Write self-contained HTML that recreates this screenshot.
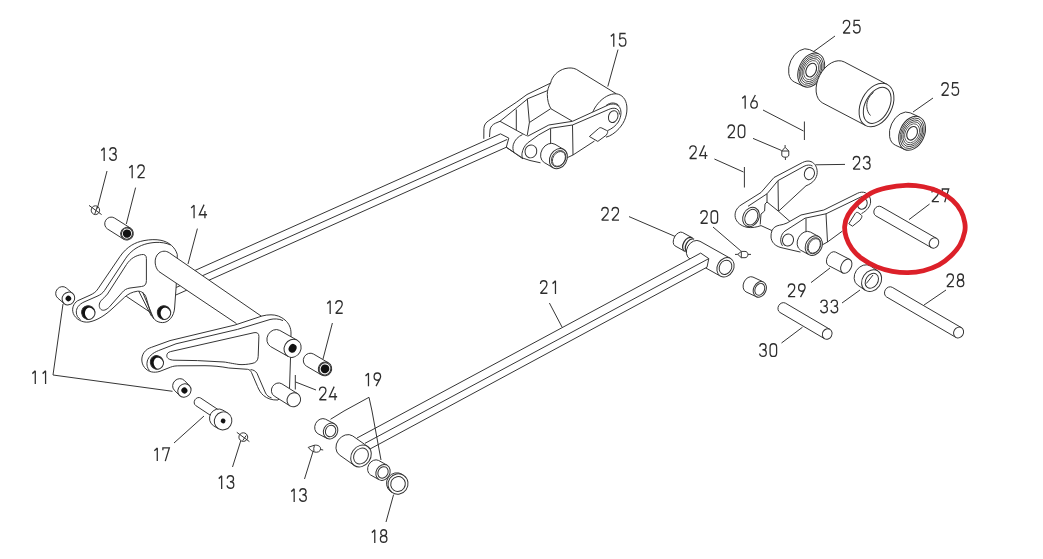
<!DOCTYPE html>
<html><head><meta charset="utf-8"><title>Parts diagram</title>
<style>
html,body{margin:0;padding:0;background:#fff;}
body{width:1043px;height:559px;overflow:hidden;font-family:"Liberation Sans",sans-serif;}
svg{display:block}
</style></head><body>
<svg width="1043" height="559" viewBox="0 0 1043 559" stroke-linecap="butt" stroke-linejoin="round">
<rect width="1043" height="559" fill="#fff"/>
<path d="M176,278.942L430,165.3786" fill="none" stroke="#303030" stroke-width="0.98"/>
<path d="M176,287.54200000000003L430,173.9786" fill="none" stroke="#303030" stroke-width="0.98"/>
<path d="M176,294.942L430,181.3786" fill="none" stroke="#303030" stroke-width="0.98"/>
<path d="M144,240.6 C150,239.4 156,239.3 161,240.3 C169,242 175,247 177.3,254.5 L176.2,286 L174.6,308 C174,316 169,322.6 162.5,322.6 C156,322.6 152,318 150.2,311.5 L146.3,298 C145,293.5 141.5,290.8 137.5,291.2 C132,292 128,294 124.5,297.3 L113,308 C105,315.5 97,320.5 89,322 C82,323 75.5,319 73.3,313.5 C71.5,308.5 73.5,303.5 77.5,300.8 L90,295.2 C94,293.3 96,291.8 98,288.8 L120,256.5 C127,246.5 135,242.3 144,240.6 Z" fill="#fff" stroke="#303030" stroke-width="0.98" />
<path d="M170.5,245 C166,242.8 161,242.2 156,242.4 C148,242.8 140,245 133.5,250 C130,252.8 128,255 125.8,258.2 L104.5,290.5 C102.5,293.3 100.5,294.8 97,296.3 L84,302 C79,304.3 76.3,308 76.3,312 C76.3,315.5 78,318 80.5,319.6" fill="none" stroke="#303030" stroke-width="0.98" />
<path d="M141.5,254.6 C144.5,254 146.4,255.3 146.4,258.5 L146.4,280.5 C146.4,284.3 145,286.1 141.5,286.5 L130,288 C126.5,288.5 124.2,290 122,292.6 L109.5,306.8 C106.5,310 103,311.3 100.8,309.3 C98.6,307.3 98.8,303.3 101,300.8 C103,298.3 105.5,296.8 107.5,294 L126.5,264.5 C130.5,258.5 135.5,255.6 141.5,254.6 Z" fill="none" stroke="#303030" stroke-width="0.98" />
<path d="M126.3,296.3L150.3,312.3" fill="none" stroke="#303030" stroke-width="0.98"/>
<path d="M138.8,291.3L151.5,316.2" fill="none" stroke="#303030" stroke-width="0.98"/>
<path d="M142.6,292.2L153.8,318.8" fill="none" stroke="#303030" stroke-width="0.98"/>
<clipPath id="hc1"><ellipse cx="88.3" cy="312.6" rx="6.7" ry="6.9" transform="rotate(-30 88.3 312.6)"/></clipPath>
<ellipse cx="88.3" cy="312.6" rx="6.7" ry="6.9" transform="rotate(-30.0 88.3 312.6)" fill="#111" stroke="#303030" stroke-width="0"/>
<ellipse cx="90.89999999999999" cy="313.6" rx="5.8" ry="6.4" transform="rotate(-30 90.89999999999999 313.6)" fill="#fff" clip-path="url(#hc1)"/>
<ellipse cx="88.3" cy="312.6" rx="6.7" ry="6.9" transform="rotate(-30.0 88.3 312.6)" fill="none" stroke="#303030" stroke-width="0.98"/>
<clipPath id="hc2"><ellipse cx="164" cy="312.6" rx="6.7" ry="6.9" transform="rotate(-30 164 312.6)"/></clipPath>
<ellipse cx="164" cy="312.6" rx="6.7" ry="6.9" transform="rotate(-30.0 164 312.6)" fill="#111" stroke="#303030" stroke-width="0"/>
<ellipse cx="166.6" cy="313.6" rx="5.8" ry="6.4" transform="rotate(-30 166.6 313.6)" fill="#fff" clip-path="url(#hc2)"/>
<ellipse cx="164" cy="312.6" rx="6.7" ry="6.9" transform="rotate(-30.0 164 312.6)" fill="none" stroke="#303030" stroke-width="0.98"/>
<path d="M72.70,293.49 L66.30,287.99 A6.1,6.6 40.7 0 0 57.70,298.01 L64.10,303.51" fill="#fff" stroke="#303030" stroke-width="0.98" />
<ellipse cx="68.4" cy="298.5" rx="6.1" ry="6.6" transform="rotate(40.7 68.4 298.5)" fill="#fff" stroke="#303030" stroke-width="0.98"/>
<ellipse cx="68.4" cy="298.5" rx="2.8" ry="2.8" transform="rotate(40.7 68.4 298.5)" fill="#111" stroke="#303030" stroke-width="0"/>
<path d="M130.47,228.10 L114.47,218.00 A6.2,6.5 32.3 0 0 107.53,229.00 L123.53,239.10" fill="#fff" stroke="#303030" stroke-width="0.98" />
<ellipse cx="127" cy="233.6" rx="6.2" ry="6.5" transform="rotate(32.3 127 233.6)" fill="#fff" stroke="#303030" stroke-width="0.98"/>
<ellipse cx="127" cy="233.6" rx="5.456" ry="5.72" transform="rotate(32.3 127 233.6)" fill="none" stroke="#303030" stroke-width="0.98"/>
<ellipse cx="127" cy="233.6" rx="4.2" ry="4.2" transform="rotate(32.3 127 233.6)" fill="#111" stroke="#303030" stroke-width="0"/>
<path d="M261.5,316.3 L169.3,252.8 C166,250.6 162,250.7 159,253 C156,255.4 154.9,259 155.2,263 C155.5,266.5 156.8,269.5 159,271.6 L236.5,323.6" fill="#fff" stroke="#303030" stroke-width="0.98" />
<path d="M271,314.8 C276,314.8 281,316.5 285,320 C289,323.5 291,328 291,333 L290.5,358 L289.5,388 L278,400 C272,400.3 267,398.5 263.5,395.5 C260.5,392.8 259,390 257.5,386.5 L251.5,372.5 C250.5,370.5 249.5,369.6 247.5,369.3 L228.8,368 C221,366.5 213,365.8 205,365.7 L180,365.8 C176,365.8 173.5,366 170.5,367.2 L160,371.3 C154,373.3 148,372 144.5,367.5 C141,363 141,357 144,352.5 C146,349.7 148.5,348.3 151.5,347.3 L170,340.6 L235,325 L262,316 C265,315.2 268,314.8 271,314.8 Z" fill="#fff" stroke="#303030" stroke-width="0.98" />
<path d="M283,320.6 C279,318.6 274,318.6 270,319.5 L237.5,329.4 L176,343.8 L158.5,350.6 C152.5,353 148.6,356.5 147.3,361 C146.3,364.8 147.3,368 149.5,370.6" fill="none" stroke="#303030" stroke-width="0.98" />
<path d="M250.5,369.6 C253.5,369.8 255.5,371 257,373.3 L265.5,393 C266.8,395.6 268.8,397 271.5,397.8" fill="none" stroke="#303030" stroke-width="0.98" />
<path d="M170.5,351.6 L254,332.7 C257,332.1 258.9,333.3 258.9,336.3 L258.2,356.5 C258,360.5 256,362.8 252,363.5 C247,364.5 243,364.8 239,364.5 C232,363.5 228,362.5 224,362 L197.5,360.6 L174,360.2 C169.5,360 166.8,358.3 166.8,355.8 C166.8,353.6 168,352.3 170.5,351.6 Z" fill="none" stroke="#303030" stroke-width="0.98" />
<clipPath id="hc3"><ellipse cx="156.9" cy="362.4" rx="6.5" ry="6.9" transform="rotate(-30 156.9 362.4)"/></clipPath>
<ellipse cx="156.9" cy="362.4" rx="6.5" ry="6.9" transform="rotate(-30.0 156.9 362.4)" fill="#111" stroke="#303030" stroke-width="0"/>
<ellipse cx="159.5" cy="363.4" rx="5.6" ry="6.4" transform="rotate(-30 159.5 363.4)" fill="#fff" clip-path="url(#hc3)"/>
<ellipse cx="156.9" cy="362.4" rx="6.5" ry="6.9" transform="rotate(-30.0 156.9 362.4)" fill="none" stroke="#303030" stroke-width="0.98"/>
<path d="M297.16,340.20 L279.76,330.40 A8.3,9.3 29.4 0 0 270.64,346.60 L288.04,356.40" fill="#fff" stroke="#303030" stroke-width="0.98" />
<ellipse cx="292.6" cy="348.3" rx="8.3" ry="9.3" transform="rotate(29.4 292.6 348.3)" fill="#fff" stroke="#303030" stroke-width="0.98"/>
<ellipse cx="292.6" cy="348.3" rx="3.8" ry="4.4" transform="rotate(29.4 292.6 348.3)" fill="#111" stroke="#303030" stroke-width="0"/>
<path d="M297.62,393.70 L281.82,383.80 A6.6,7.2 32.1 0 0 274.18,396.00 L289.98,405.90" fill="#fff" stroke="#303030" stroke-width="0.98" />
<ellipse cx="293.8" cy="399.8" rx="6.6" ry="7.2" transform="rotate(32.1 293.8 399.8)" fill="#fff" stroke="#303030" stroke-width="0.98"/>
<path d="M295.3,375L295.3,389.5" fill="none" stroke="#303030" stroke-width="0.98"/>
<path d="M295.6,382L316,390" fill="none" stroke="#303030" stroke-width="0.98"/>
<path d="M328.54,362.86 L313.54,354.06 A6.6,7.0 30.4 0 0 306.46,366.14 L321.46,374.94" fill="#fff" stroke="#303030" stroke-width="0.98" />
<ellipse cx="325" cy="368.9" rx="6.6" ry="7.0" transform="rotate(30.4 325 368.9)" fill="#fff" stroke="#303030" stroke-width="0.98"/>
<ellipse cx="325" cy="368.9" rx="5.808" ry="6.16" transform="rotate(30.4 325 368.9)" fill="none" stroke="#303030" stroke-width="0.98"/>
<ellipse cx="325" cy="368.9" rx="4.3" ry="4.5" transform="rotate(30.4 325 368.9)" fill="#111" stroke="#303030" stroke-width="0"/>
<path d="M189.40,385.60 L184.30,380.40 A6.3,7 45.6 0 0 174.30,390.20 L179.40,395.40" fill="#fff" stroke="#303030" stroke-width="0.98" />
<ellipse cx="184.4" cy="390.5" rx="6.3" ry="7" transform="rotate(45.6 184.4 390.5)" fill="#fff" stroke="#303030" stroke-width="0.98"/>
<ellipse cx="184.4" cy="390.5" rx="3" ry="3" transform="rotate(45.6 184.4 390.5)" fill="#111" stroke="#303030" stroke-width="0"/>
<path d="M219.49,410.55 L200.69,398.05 A3.8,4.5 33.6 0 0 195.71,405.55 L214.51,418.05" fill="#fff" stroke="#303030" stroke-width="0.98" />
<path d="M227.81,413.11 L223.01,410.21 A8.7,9.1 31.1 0 0 213.59,425.79 L218.39,428.69" fill="#fff" stroke="#303030" stroke-width="0.98" />
<ellipse cx="223.1" cy="420.9" rx="8.7" ry="9.1" transform="rotate(31.1 223.1 420.9)" fill="#fff" stroke="#303030" stroke-width="0.98"/>
<ellipse cx="223.1" cy="420.9" rx="2.4" ry="2.4" transform="rotate(31.1 223.1 420.9)" fill="#111" stroke="#303030" stroke-width="0"/>
<path d="M107,171L97.3,208.5" fill="none" stroke="#303030" stroke-width="0.98"/>
<ellipse cx="95.4" cy="210.2" rx="4.2" ry="4.4" transform="rotate(0.0 95.4 210.2)" fill="none" stroke="#303030" stroke-width="0.98"/>
<path d="M89,205.4L101.6,214.6" fill="none" stroke="#303030" stroke-width="0.98"/>
<path d="M97.3,206.5L94.8,214" fill="none" stroke="#303030" stroke-width="0.98"/>
<path d="M135.6,187.6L126.3,224" fill="none" stroke="#303030" stroke-width="0.98"/>
<path d="M197.4,228.6L188,264" fill="none" stroke="#303030" stroke-width="0.98"/>
<path d="M63,304 L53,375 L172.5,391.3" fill="none" stroke="#303030" stroke-width="0.98" />
<path d="M204,416L174,443" fill="none" stroke="#303030" stroke-width="0.98"/>
<path d="M332.4,323L323,359" fill="none" stroke="#303030" stroke-width="0.98"/>
<ellipse cx="243.3" cy="437.1" rx="4.4" ry="4.3" transform="rotate(0.0 243.3 437.1)" fill="none" stroke="#303030" stroke-width="0.98"/>
<path d="M236.8,432.3L249.4,441.6" fill="none" stroke="#303030" stroke-width="0.98"/>
<path d="M246.3,435.4L242.7,440.6" fill="none" stroke="#303030" stroke-width="0.98"/>
<path d="M240.8,440.7L232.5,467" fill="none" stroke="#303030" stroke-width="0.98"/>
<path d="M308.2,447.4 L314,445.3 C318,444.6 320.8,446.5 320.6,449 C320.4,451.8 317,452.8 314.5,452 L311.3,450.6 Z" fill="none" stroke="#303030" stroke-width="0.98" />
<path d="M314.4,445.4 Q313.3,448.5 314,451.6" fill="none" stroke="#303030" stroke-width="0.98" />
<path d="M320.6,449.5L323.2,450" fill="none" stroke="#303030" stroke-width="0.98"/>
<path d="M313.1,451.3L304.5,479" fill="none" stroke="#303030" stroke-width="0.98"/>
<path d="M3.5,3.6 L6.7,0.9 V13.9" transform="translate(98.01 147.00) scale(0.92 1)" fill="none" stroke="#2e2e2e" stroke-width="1.38" stroke-linejoin="miter" stroke-miterlimit="2.2"/>
<path d="M1.5,3.6 C1.8,1.8 3.1,0.7 5,0.7 C7.1,0.7 8.4,1.9 8.4,3.8 C8.4,5.6 7.2,6.7 5.3,6.7 H4.5 M5.3,6.7 C7.4,6.7 8.7,7.9 8.7,9.9 C8.7,12 7.3,13.3 5.1,13.3 C3,13.3 1.6,12.3 1.3,10.4" transform="translate(108.31 147.00) scale(0.92 1)" fill="none" stroke="#2e2e2e" stroke-width="1.38" stroke-linejoin="miter" stroke-miterlimit="2.2"/>
<path d="M3.5,3.6 L6.7,0.9 V13.9" transform="translate(126.01 164.30) scale(0.92 1)" fill="none" stroke="#2e2e2e" stroke-width="1.38" stroke-linejoin="miter" stroke-miterlimit="2.2"/>
<path d="M1.6,4.1 C1.6,2 3,0.7 5.1,0.7 C7.2,0.7 8.6,2 8.6,4.1 C8.6,5.5 8.1,6.3 7.2,7.4 L1.6,13.3 H9.1" transform="translate(136.31 164.30) scale(0.92 1)" fill="none" stroke="#2e2e2e" stroke-width="1.38" stroke-linejoin="miter" stroke-miterlimit="2.2"/>
<path d="M3.5,3.6 L6.7,0.9 V13.9" transform="translate(187.91 204.40) scale(0.92 1)" fill="none" stroke="#2e2e2e" stroke-width="1.38" stroke-linejoin="miter" stroke-miterlimit="2.2"/>
<path d="M6.4,0.2 L1.2,10.4 H9.6 M7.3,6.5 V13.9" transform="translate(198.21 204.40) scale(0.92 1)" fill="none" stroke="#2e2e2e" stroke-width="1.38" stroke-linejoin="miter" stroke-miterlimit="2.2"/>
<path d="M3.5,3.6 L6.7,0.9 V13.9" transform="translate(29.11 370.00) scale(0.92 1)" fill="none" stroke="#2e2e2e" stroke-width="1.38" stroke-linejoin="miter" stroke-miterlimit="2.2"/>
<path d="M3.5,3.6 L6.7,0.9 V13.9" transform="translate(39.41 370.00) scale(0.92 1)" fill="none" stroke="#2e2e2e" stroke-width="1.38" stroke-linejoin="miter" stroke-miterlimit="2.2"/>
<path d="M3.5,3.6 L6.7,0.9 V13.9" transform="translate(151.11 447.20) scale(0.92 1)" fill="none" stroke="#2e2e2e" stroke-width="1.38" stroke-linejoin="miter" stroke-miterlimit="2.2"/>
<path d="M1.6,3.1 V0.7 H8.6 L4.2,13.9" transform="translate(161.41 447.20) scale(0.92 1)" fill="none" stroke="#2e2e2e" stroke-width="1.38" stroke-linejoin="miter" stroke-miterlimit="2.2"/>
<path d="M3.5,3.6 L6.7,0.9 V13.9" transform="translate(215.51 475.00) scale(0.92 1)" fill="none" stroke="#2e2e2e" stroke-width="1.38" stroke-linejoin="miter" stroke-miterlimit="2.2"/>
<path d="M1.5,3.6 C1.8,1.8 3.1,0.7 5,0.7 C7.1,0.7 8.4,1.9 8.4,3.8 C8.4,5.6 7.2,6.7 5.3,6.7 H4.5 M5.3,6.7 C7.4,6.7 8.7,7.9 8.7,9.9 C8.7,12 7.3,13.3 5.1,13.3 C3,13.3 1.6,12.3 1.3,10.4" transform="translate(225.81 475.00) scale(0.92 1)" fill="none" stroke="#2e2e2e" stroke-width="1.38" stroke-linejoin="miter" stroke-miterlimit="2.2"/>
<path d="M3.5,3.6 L6.7,0.9 V13.9" transform="translate(288.01 488.00) scale(0.92 1)" fill="none" stroke="#2e2e2e" stroke-width="1.38" stroke-linejoin="miter" stroke-miterlimit="2.2"/>
<path d="M1.5,3.6 C1.8,1.8 3.1,0.7 5,0.7 C7.1,0.7 8.4,1.9 8.4,3.8 C8.4,5.6 7.2,6.7 5.3,6.7 H4.5 M5.3,6.7 C7.4,6.7 8.7,7.9 8.7,9.9 C8.7,12 7.3,13.3 5.1,13.3 C3,13.3 1.6,12.3 1.3,10.4" transform="translate(298.31 488.00) scale(0.92 1)" fill="none" stroke="#2e2e2e" stroke-width="1.38" stroke-linejoin="miter" stroke-miterlimit="2.2"/>
<path d="M3.5,3.6 L6.7,0.9 V13.9" transform="translate(324.01 300.00) scale(0.92 1)" fill="none" stroke="#2e2e2e" stroke-width="1.38" stroke-linejoin="miter" stroke-miterlimit="2.2"/>
<path d="M1.6,4.1 C1.6,2 3,0.7 5.1,0.7 C7.2,0.7 8.6,2 8.6,4.1 C8.6,5.5 8.1,6.3 7.2,7.4 L1.6,13.3 H9.1" transform="translate(334.31 300.00) scale(0.92 1)" fill="none" stroke="#2e2e2e" stroke-width="1.38" stroke-linejoin="miter" stroke-miterlimit="2.2"/>
<path d="M1.6,4.1 C1.6,2 3,0.7 5.1,0.7 C7.2,0.7 8.6,2 8.6,4.1 C8.6,5.5 8.1,6.3 7.2,7.4 L1.6,13.3 H9.1" transform="translate(318.01 386.40) scale(0.92 1)" fill="none" stroke="#2e2e2e" stroke-width="1.38" stroke-linejoin="miter" stroke-miterlimit="2.2"/>
<path d="M6.4,0.2 L1.2,10.4 H9.6 M7.3,6.5 V13.9" transform="translate(328.31 386.40) scale(0.92 1)" fill="none" stroke="#2e2e2e" stroke-width="1.38" stroke-linejoin="miter" stroke-miterlimit="2.2"/>
<path d="M483.8,138.5 L483.9,128.5 C484,125 486,122.3 488.8,120.6 L516.3,102.3 L525.5,95.5 L550.6,83.1 L556,112 L529.4,123 L527.4,136 L508,140 Z" fill="#fff" stroke="#303030" stroke-width="0" />
<path d="M483.8,138.8 L483.9,128.5 C484,125 486,122.3 488.8,120.6 L516.3,102.3 L527,94.5 L550.6,83.1" fill="none" stroke="#303030" stroke-width="0.98" />
<path d="M489.5,137 L490,130 C490.3,127 492.5,124.5 495.5,123.2 L500,121.3 L528,98.6 L547.5,90.6" fill="none" stroke="#303030" stroke-width="0.98" />
<path d="M500,121.3L527.5,136.4" fill="none" stroke="#303030" stroke-width="0.98"/>
<path d="M516.3,109.5L516.3,130.2" fill="none" stroke="#303030" stroke-width="0.98"/>
<path d="M527.3,98.8 L529.4,122.5 L527.2,135.6" fill="none" stroke="#303030" stroke-width="0.98" />
<path d="M529.4,122.5L550.5,108.8" fill="none" stroke="#303030" stroke-width="0.98"/>
<path d="M429,165.82569999999998 L500.6,133.81333999999998 L508.8,138.1 L506.3,147.2 L429,181.82569999999998 Z" fill="#fff" stroke="none"/>
<path d="M429,165.82569999999998L500.6,133.81333999999998" fill="none" stroke="#303030" stroke-width="0.98"/>
<path d="M429,174.42569999999998L507.2,139.46248" fill="none" stroke="#303030" stroke-width="0.98"/>
<path d="M429,181.82569999999998L506.3,147.26487" fill="none" stroke="#303030" stroke-width="0.98"/>
<path d="M500.6,133.9 L508.8,138.1 L506.3,147.2" fill="none" stroke="#303030" stroke-width="0.98" />
<path d="M506.3,147.2L523,158.9" fill="none" stroke="#303030" stroke-width="0.98"/>
<path d="M550.6,83.1 C552,76 558,70.5 565,68.6 C569.5,67.5 573,67.8 576.3,69.3 L616.3,93.8 C622,94.5 626,99 626.8,106 C627.6,114 625,122 619,128.6 C615,133 610.5,136 606,137.2 L597.5,141.5 L573,155 L572.5,121.3 L556,112.5 C552,110 549.5,106.5 548,102.5 C547,99 547,95 547.6,91.5 Z" fill="#fff" stroke="#303030" stroke-width="0" />
<path d="M550.6,83.1 C552,76 558,70.5 565,68.6 C569.5,67.5 573,67.8 576.3,69.3 L616.3,93.8 C622,94.5 626,99 626.8,106 C627.6,114 625,122 619,128.6 C615,133 610.5,136 606,137.2 " fill="none" stroke="#303030" stroke-width="0.98" />
<path d="M550.6,83.1 C548.5,86.5 547.3,90 547.3,94.5 C547.3,100 548.8,105.5 551,108.8 L572.5,121.3" fill="none" stroke="#303030" stroke-width="0.98" />
<path d="M616.3,93.8 C610,93.5 603,97.5 598,103.5 C595.5,106.5 593.8,109.5 592.6,112.5" fill="none" stroke="#303030" stroke-width="0.98" />
<path d="M527.5,136.3 L548.8,125 L572.5,121.3 L606,106 C609,104.3 612.5,103.5 615.5,104.3 C619,105.3 621,108.5 621,112.5 C621,116 620,119 618.3,122 C616,125.5 612.5,128.5 607.3,130.8 L606.3,135.2 L597.8,141.4 L594,141.3 L573,155 L566,157.8 L552.5,168 L540,162.5 L525,158 C523,155.5 522.3,152 522.5,148.5 C522.7,143.5 524.5,139.5 527.5,136.3 Z" fill="#fff" stroke="#303030" stroke-width="0" />
<path d="M527.5,136.3 L548.8,125 L572.5,121.3 L606,106 C609,104.3 612.5,103.5 615.5,104.3 C619,105.3 621,108.5 621,112.5 C621,116 620,119 618.3,122 C616,125.5 612.5,128.5 607.3,130.8 " fill="none" stroke="#303030" stroke-width="0.98" />
<path d="M550.3,128.3 L572.5,125 L608.8,109.4 C611.5,108.2 614.5,107.8 616.5,108.8 C618.6,109.8 619.6,112 619.4,114.5" fill="none" stroke="#303030" stroke-width="0.98" />
<path d="M606,105.6 C608,103.8 611,102.8 613.5,103 C616,103.3 618,104.3 619,105.8" fill="none" stroke="#303030" stroke-width="0.98" />
<ellipse cx="613.2" cy="116.6" rx="4.6" ry="6.1" transform="rotate(20.0 613.2 116.6)" fill="none" stroke="#303030" stroke-width="0.98"/>
<path d="M589.4,136.5 L598.5,128.6 C599.5,127.6 600.5,127.4 601.8,128 L606.5,130.4 C607.8,131.1 608,132 607.3,133.3 L606.3,135.2 L597.8,141.4 Z" fill="#fff" stroke="#303030" stroke-width="0.98" />
<path d="M550.6,128.5L550.6,143.5" fill="none" stroke="#303030" stroke-width="0.98"/>
<path d="M572.5,125L573,155" fill="none" stroke="#303030" stroke-width="0.98"/>
<path d="M566.5,158 L573,155 L594.5,141" fill="none" stroke="#303030" stroke-width="0.98" />
<path d="M522.5,134.6 C518,136.5 514.8,140 513.4,144.3 C512.6,147 512.8,150 513.9,152.3 L522.5,158 L527.5,143 L527.5,136.4 Z" fill="#fff" stroke="#303030" stroke-width="0" />
<path d="M522.5,134.6 C518,136.5 514.8,140 513.4,144.3 C512.6,147 512.8,150 513.9,152.3" fill="none" stroke="#303030" stroke-width="0.98" />
<path d="M550.3,128.4 L538.7,134.9 L527.5,143 C524.5,145.8 522.6,149.5 522,153.5 C521.8,155.5 522,157 522.5,158 L530,160.5 L540.5,162.8" fill="none" stroke="#303030" stroke-width="0.98" />
<path d="M506.3,147.3L522.5,158" fill="none" stroke="#303030" stroke-width="0.98"/>
<ellipse cx="530.9" cy="151.4" rx="5.9" ry="6.5" transform="rotate(15.0 530.9 151.4)" fill="none" stroke="#303030" stroke-width="0.98"/>
<path d="M563.79,149.47 L554.99,144.27 A8.4,10.6 30.6 0 0 544.21,162.53 L553.01,167.73" fill="#fff" stroke="#303030" stroke-width="0.98" />
<ellipse cx="558.4" cy="158.6" rx="8.4" ry="10.6" transform="rotate(30.6 558.4 158.6)" fill="#fff" stroke="#303030" stroke-width="0.98"/>
<ellipse cx="558.6" cy="158.7" rx="6.7" ry="8.7" transform="rotate(31.6 558.6 158.7)" fill="none" stroke="#303030" stroke-width="0.8"/>
<ellipse cx="558.9" cy="158.9" rx="5.9" ry="7.9" transform="rotate(31.6 558.9 158.9)" fill="none" stroke="#303030" stroke-width="0.8"/>
<path d="M618,49.6L607.8,86.5" fill="none" stroke="#303030" stroke-width="0.98"/>
<path d="M3.5,3.6 L6.7,0.9 V13.9" transform="translate(607.61 32.80) scale(0.92 1)" fill="none" stroke="#2e2e2e" stroke-width="1.38" stroke-linejoin="miter" stroke-miterlimit="2.2"/>
<path d="M8.4,0.7 H2.3 L1.9,6.4 C2.6,5.6 3.7,5.1 5.1,5.1 C7.4,5.1 8.7,6.6 8.7,9.1 C8.7,11.8 7.3,13.3 5.1,13.3 C3.1,13.3 1.7,12.3 1.4,10.5" transform="translate(617.91 32.80) scale(0.92 1)" fill="none" stroke="#2e2e2e" stroke-width="1.38" stroke-linejoin="miter" stroke-miterlimit="2.2"/>
<path d="M818.78,53.88 L809.58,49.58 A12.3,17.9 25.1 0 0 794.42,82.02 L803.62,86.32" fill="#fff" stroke="#303030" stroke-width="0.98" />
<ellipse cx="811.2" cy="70.1" rx="12.3" ry="17.9" transform="rotate(25.1 811.2 70.1)" fill="#fff" stroke="#303030" stroke-width="0.98"/>
<ellipse cx="811.2" cy="70.1" rx="11.07" ry="16.11" transform="rotate(25.1 811.2 70.1)" fill="none" stroke="#303030" stroke-width="0.8"/>
<ellipse cx="811.2" cy="70.1" rx="9.717" ry="14.141" transform="rotate(25.1 811.2 70.1)" fill="none" stroke="#303030" stroke-width="0.8"/>
<ellipse cx="811.2" cy="70.1" rx="8.364" ry="12.172" transform="rotate(25.1 811.2 70.1)" fill="none" stroke="#303030" stroke-width="0.8"/>
<ellipse cx="811.2" cy="70.1" rx="6.888000000000001" ry="10.024000000000001" transform="rotate(25.1 811.2 70.1)" fill="none" stroke="#303030" stroke-width="0.7"/>
<ellipse cx="811.2" cy="70.1" rx="4.920000000000001" ry="7.16" transform="rotate(25.1 811.2 70.1)" fill="none" stroke="#303030" stroke-width="1.1"/>
<path d="M887.26,84.44 L844.26,61.94 A15.5,23.2 27.6 0 0 822.74,103.06 L865.74,125.56" fill="#fff" stroke="#303030" stroke-width="0.98" />
<ellipse cx="876.5" cy="105" rx="15.5" ry="23.2" transform="rotate(27.6 876.5 105)" fill="#fff" stroke="#303030" stroke-width="0.98"/>
<ellipse cx="877.2" cy="105.4" rx="12" ry="19.3" transform="rotate(27.6 877.2 105.4)" fill="none" stroke="#303030" stroke-width="0.98"/>
<path d="M873.5,92.5 C869,96 866.5,101 866.8,106.5 C867,110.5 868.5,113.5 870.5,115.5" fill="none" stroke="#303030" stroke-width="0.98" />
<path d="M919.57,117.14 L910.27,112.84 A12.3,17.8 24.8 0 0 895.33,145.16 L904.63,149.46" fill="#fff" stroke="#303030" stroke-width="0.98" />
<ellipse cx="912.1" cy="133.3" rx="12.3" ry="17.8" transform="rotate(24.8 912.1 133.3)" fill="#fff" stroke="#303030" stroke-width="0.98"/>
<ellipse cx="912.1" cy="133.3" rx="11.07" ry="16.02" transform="rotate(24.8 912.1 133.3)" fill="none" stroke="#303030" stroke-width="0.8"/>
<ellipse cx="912.1" cy="133.3" rx="9.717" ry="14.062000000000001" transform="rotate(24.8 912.1 133.3)" fill="none" stroke="#303030" stroke-width="0.8"/>
<ellipse cx="912.1" cy="133.3" rx="8.364" ry="12.104000000000001" transform="rotate(24.8 912.1 133.3)" fill="none" stroke="#303030" stroke-width="0.8"/>
<ellipse cx="912.1" cy="133.3" rx="6.888000000000001" ry="9.968000000000002" transform="rotate(24.8 912.1 133.3)" fill="none" stroke="#303030" stroke-width="0.7"/>
<ellipse cx="912.1" cy="133.3" rx="4.920000000000001" ry="7.120000000000001" transform="rotate(24.8 912.1 133.3)" fill="none" stroke="#303030" stroke-width="1.1"/>
<path d="M835,36L813.3,51.8" fill="none" stroke="#303030" stroke-width="0.98"/>
<path d="M933,98L913,112" fill="none" stroke="#303030" stroke-width="0.98"/>
<path d="M1.6,4.1 C1.6,2 3,0.7 5.1,0.7 C7.2,0.7 8.6,2 8.6,4.1 C8.6,5.5 8.1,6.3 7.2,7.4 L1.6,13.3 H9.1" transform="translate(841.81 19.70) scale(0.92 1)" fill="none" stroke="#2e2e2e" stroke-width="1.38" stroke-linejoin="miter" stroke-miterlimit="2.2"/>
<path d="M8.4,0.7 H2.3 L1.9,6.4 C2.6,5.6 3.7,5.1 5.1,5.1 C7.4,5.1 8.7,6.6 8.7,9.1 C8.7,11.8 7.3,13.3 5.1,13.3 C3.1,13.3 1.7,12.3 1.4,10.5" transform="translate(852.11 19.70) scale(0.92 1)" fill="none" stroke="#2e2e2e" stroke-width="1.38" stroke-linejoin="miter" stroke-miterlimit="2.2"/>
<path d="M1.6,4.1 C1.6,2 3,0.7 5.1,0.7 C7.2,0.7 8.6,2 8.6,4.1 C8.6,5.5 8.1,6.3 7.2,7.4 L1.6,13.3 H9.1" transform="translate(940.31 82.00) scale(0.92 1)" fill="none" stroke="#2e2e2e" stroke-width="1.38" stroke-linejoin="miter" stroke-miterlimit="2.2"/>
<path d="M8.4,0.7 H2.3 L1.9,6.4 C2.6,5.6 3.7,5.1 5.1,5.1 C7.4,5.1 8.7,6.6 8.7,9.1 C8.7,11.8 7.3,13.3 5.1,13.3 C3.1,13.3 1.7,12.3 1.4,10.5" transform="translate(950.61 82.00) scale(0.92 1)" fill="none" stroke="#2e2e2e" stroke-width="1.38" stroke-linejoin="miter" stroke-miterlimit="2.2"/>
<path d="M763,110L803.5,131" fill="none" stroke="#303030" stroke-width="0.98"/>
<path d="M804.4,121.5L804.4,140" fill="none" stroke="#303030" stroke-width="0.98"/>
<path d="M753,138.4L781.6,150.5" fill="none" stroke="#303030" stroke-width="0.98"/>
<path d="M785.1,147.3 L781.8,151 V155 C781.8,156.8 783.5,157.2 785.4,157.2 C787.3,157.2 788.8,156.5 788.8,155 V151 Z M781.8,151 H788.8 M785.1,145 V147.3 M785.4,157.2 V160" fill="none" stroke="#303030" stroke-width="0.98" />
<path d="M714.4,159L743.5,172" fill="none" stroke="#303030" stroke-width="0.98"/>
<path d="M744.4,167L744.4,187.5" fill="none" stroke="#303030" stroke-width="0.98"/>
<path d="M845,164.4L815.5,164.8" fill="none" stroke="#303030" stroke-width="0.98"/>
<path d="M3.5,3.6 L6.7,0.9 V13.9" transform="translate(739.01 94.80) scale(0.92 1)" fill="none" stroke="#2e2e2e" stroke-width="1.38" stroke-linejoin="miter" stroke-miterlimit="2.2"/>
<path d="M6.6,0.2 L2.5,7.2 C1.9,8.2 1.6,8.9 1.6,9.7 C1.6,11.8 3,13.3 5.15,13.3 C7.3,13.3 8.7,11.8 8.7,9.7 C8.7,7.6 7.3,6.1 5.3,6.1 C4.1,6.1 3.1,6.5 2.5,7.3" transform="translate(749.31 94.80) scale(0.92 1)" fill="none" stroke="#2e2e2e" stroke-width="1.38" stroke-linejoin="miter" stroke-miterlimit="2.2"/>
<path d="M1.6,4.1 C1.6,2 3,0.7 5.1,0.7 C7.2,0.7 8.6,2 8.6,4.1 C8.6,5.5 8.1,6.3 7.2,7.4 L1.6,13.3 H9.1" transform="translate(726.51 124.30) scale(0.92 1)" fill="none" stroke="#2e2e2e" stroke-width="1.38" stroke-linejoin="miter" stroke-miterlimit="2.2"/>
<path d="M1.6,4.2 C1.6,1.9 3,0.7 5.15,0.7 C7.3,0.7 8.7,1.9 8.7,4.2 V9.8 C8.7,12.1 7.3,13.3 5.15,13.3 C3,13.3 1.6,12.1 1.6,9.8 Z" transform="translate(736.81 124.30) scale(0.92 1)" fill="none" stroke="#2e2e2e" stroke-width="1.38" stroke-linejoin="miter" stroke-miterlimit="2.2"/>
<path d="M1.6,4.1 C1.6,2 3,0.7 5.1,0.7 C7.2,0.7 8.6,2 8.6,4.1 C8.6,5.5 8.1,6.3 7.2,7.4 L1.6,13.3 H9.1" transform="translate(688.31 145.20) scale(0.92 1)" fill="none" stroke="#2e2e2e" stroke-width="1.38" stroke-linejoin="miter" stroke-miterlimit="2.2"/>
<path d="M6.4,0.2 L1.2,10.4 H9.6 M7.3,6.5 V13.9" transform="translate(698.61 145.20) scale(0.92 1)" fill="none" stroke="#2e2e2e" stroke-width="1.38" stroke-linejoin="miter" stroke-miterlimit="2.2"/>
<path d="M1.6,4.1 C1.6,2 3,0.7 5.1,0.7 C7.2,0.7 8.6,2 8.6,4.1 C8.6,5.5 8.1,6.3 7.2,7.4 L1.6,13.3 H9.1" transform="translate(851.81 155.80) scale(0.92 1)" fill="none" stroke="#2e2e2e" stroke-width="1.38" stroke-linejoin="miter" stroke-miterlimit="2.2"/>
<path d="M1.5,3.6 C1.8,1.8 3.1,0.7 5,0.7 C7.1,0.7 8.4,1.9 8.4,3.8 C8.4,5.6 7.2,6.7 5.3,6.7 H4.5 M5.3,6.7 C7.4,6.7 8.7,7.9 8.7,9.9 C8.7,12 7.3,13.3 5.1,13.3 C3,13.3 1.6,12.3 1.3,10.4" transform="translate(862.11 155.80) scale(0.92 1)" fill="none" stroke="#2e2e2e" stroke-width="1.38" stroke-linejoin="miter" stroke-miterlimit="2.2"/>
<path d="M741,205 L761,192.5 L774,177.5 L802.5,162.5 C805.5,161 808.5,160.6 811,161.6 C815,163.2 817.3,167.5 817.2,172.5 C817,178 813.5,183 806,185.8 L778.8,211 L790,221.5 L772,230.6 L761,225.6 L747,227.3 C741,226 736.5,222.5 735.3,217.5 C734.3,212.5 736.5,208 741,205 Z" fill="#fff" stroke="#303030" stroke-width="0" />
<path d="M741,205 L761,192.5 L774,177.5 L802.5,162.5 C805.5,161 808.5,160.6 811,161.6 C815,163.2 817.3,167.5 817.2,172.5 C817,178 813.5,183 806,185.8 L778.8,211 " fill="none" stroke="#303030" stroke-width="0.98" />
<path d="M741,205 C736.5,208 734.3,212.5 735.3,217.5 C736.5,222.5 741,226 747,227.3 C752,228.2 757,227 761,225.6 L772,230.6" fill="none" stroke="#303030" stroke-width="0.98" />
<path d="M748,206.3 L767,193.8 L778,180.6 L804,166.3 C807,164.8 810,164.6 812.5,166" fill="none" stroke="#303030" stroke-width="0.98" />
<ellipse cx="809.4" cy="173.6" rx="5" ry="6.1" transform="rotate(15.0 809.4 173.6)" fill="none" stroke="#303030" stroke-width="0.98"/>
<path d="M778,180.6L778.4,211.2" fill="none" stroke="#303030" stroke-width="0.98"/>
<path d="M767,193.8 L767,202 L778.4,211.2 L790,221.5" fill="none" stroke="#303030" stroke-width="0.98" />
<path d="M767,202 L765,204 L764.6,211 L761,214 L760.2,224.5" fill="none" stroke="#303030" stroke-width="0.98" />
<ellipse cx="751" cy="217" rx="7.9" ry="10.1" transform="rotate(27.0 751 217)" fill="none" stroke="#303030" stroke-width="0.98"/>
<ellipse cx="751.3" cy="217.2" rx="6.1" ry="8.2" transform="rotate(27.0 751.3 217.2)" fill="none" stroke="#303030" stroke-width="0.98"/>
<path d="M772,230.6 C773.3,227.6 776,225.8 779.5,225.2 C782,224.8 784.5,224.2 787,223 L801,215 L823.8,210 L857.5,193.3 C860,192 863,191.8 865.5,192.8 C869,194.3 870.8,197.8 870.6,202 C870.3,206.5 867,210.5 861.5,213.6 L860,220 L852.5,226 L841.5,231.5 L827.5,242 L822,245 L807.5,255.5 L800,252 L781,247.6 C775,246 771.3,242 771,237 C770.9,234.6 771.2,232.5 772,230.6 Z" fill="#fff" stroke="#303030" stroke-width="0" />
<path d="M772,230.6 C773.3,227.6 776,225.8 779.5,225.2 C782,224.8 784.5,224.2 787,223 L801,215 L823.8,210 L857.5,193.3 C860,192 863,191.8 865.5,192.8 C869,194.3 870.8,197.8 870.6,202 C870.3,206.5 867,210.5 861.5,213.6 " fill="none" stroke="#303030" stroke-width="0.98" />
<path d="M772,230.6 C771.2,232.5 770.9,234.6 771,237 C771.3,242 775,246 781,247.6 L800.5,252.1" fill="none" stroke="#303030" stroke-width="0.98" />
<path d="M781,237.5 C781.5,235 783,232.5 785,231 L805,218.2 L826,213.8 L861,196.9 C863,196 865,196 866.5,196.8" fill="none" stroke="#303030" stroke-width="0.98" />
<path d="M781,237.5 C780.3,240.5 780.8,243.5 782.5,245.8" fill="none" stroke="#303030" stroke-width="0.98" />
<ellipse cx="788" cy="240" rx="5.5" ry="6.1" transform="rotate(15.0 788 240)" fill="none" stroke="#303030" stroke-width="0.98"/>
<ellipse cx="862.3" cy="203.6" rx="4.8" ry="5.7" transform="rotate(20.0 862.3 203.6)" fill="none" stroke="#303030" stroke-width="0.98"/>
<path d="M848.8,223.8 L855.3,213.4 C856,212.3 857,212 858.2,212.7 L861,214.8 C862,215.6 862.2,216.5 861.5,217.8 L860,220.2 L852.5,226.2 Z" fill="#fff" stroke="#303030" stroke-width="0.98" />
<path d="M806,218.5L806,232.3" fill="none" stroke="#303030" stroke-width="0.98"/>
<path d="M826,213.8L827.5,242" fill="none" stroke="#303030" stroke-width="0.98"/>
<path d="M822,245 L827.5,242 L842.5,231" fill="none" stroke="#303030" stroke-width="0.98" />
<path d="M818.71,236.55 L810.41,232.05 A8.0,10.3 28.5 0 0 800.59,250.15 L808.89,254.65" fill="#fff" stroke="#303030" stroke-width="0.98" />
<ellipse cx="813.8" cy="245.6" rx="8.0" ry="10.3" transform="rotate(28.5 813.8 245.6)" fill="#fff" stroke="#303030" stroke-width="0.98"/>
<ellipse cx="814" cy="245.7" rx="6.3" ry="8.5" transform="rotate(28.7 814 245.7)" fill="none" stroke="#303030" stroke-width="0.8"/>
<ellipse cx="814.3" cy="245.9" rx="5.5" ry="7.7" transform="rotate(28.7 814.3 245.9)" fill="none" stroke="#303030" stroke-width="0.8"/>
<path d="M936.63,238.40 L881.13,206.70 A4.6,5.3 29.7 0 0 875.87,215.90 L931.37,247.60" fill="#fff" stroke="#303030" stroke-width="0.98" />
<ellipse cx="934" cy="243" rx="4.6" ry="5.3" transform="rotate(29.7 934 243)" fill="#fff" stroke="#303030" stroke-width="0.98"/>
<path d="M929.6,204L909,219.6" fill="none" stroke="#303030" stroke-width="0.98"/>
<path d="M849.79,259.45 L835.49,252.05 A5.0,7.6 27.4 0 0 828.51,265.55 L842.81,272.95" fill="#fff" stroke="#303030" stroke-width="0.98" />
<ellipse cx="846.3" cy="266.2" rx="5.0" ry="7.6" transform="rotate(27.4 846.3 266.2)" fill="#fff" stroke="#303030" stroke-width="0.98"/>
<path d="M830,268L811,282.6" fill="none" stroke="#303030" stroke-width="0.98"/>
<path d="M961.42,327.66 L892.32,287.36 A4.8,5.6 30.3 0 0 886.68,297.04 L955.78,337.34" fill="#fff" stroke="#303030" stroke-width="0.98" />
<ellipse cx="958.6" cy="332.5" rx="4.8" ry="5.6" transform="rotate(30.3 958.6 332.5)" fill="#fff" stroke="#303030" stroke-width="0.98"/>
<path d="M946,290L924,305" fill="none" stroke="#303030" stroke-width="0.98"/>
<path d="M829.94,329.35 L785.44,303.15 A4.7,5.4 30.5 0 0 779.96,312.45 L824.46,338.65" fill="#fff" stroke="#303030" stroke-width="0.98" />
<ellipse cx="827.2" cy="334" rx="4.7" ry="5.4" transform="rotate(30.5 827.2 334)" fill="#fff" stroke="#303030" stroke-width="0.98"/>
<path d="M802.5,327.2L781.5,343" fill="none" stroke="#303030" stroke-width="0.98"/>
<path d="M878.09,271.21 L870.49,266.01 A9.3,11.5 34.4 0 0 857.51,284.99 L865.11,290.19" fill="#fff" stroke="#303030" stroke-width="0.98" />
<ellipse cx="871.6" cy="280.7" rx="9.3" ry="11.5" transform="rotate(34.4 871.6 280.7)" fill="#fff" stroke="#303030" stroke-width="0.98"/>
<ellipse cx="871.8" cy="280.8" rx="6.0" ry="8.0" transform="rotate(34.0 871.8 280.8)" fill="none" stroke="#303030" stroke-width="0.98"/>
<path d="M866.3,283.5L873,275" fill="none" stroke="#303030" stroke-width="0.98"/>
<path d="M860,290L842,303" fill="none" stroke="#303030" stroke-width="0.98"/>
<path d="M763.26,281.87 L752.96,277.07 A6.2,8.2 25.0 0 0 746.04,291.93 L756.34,296.73" fill="#fff" stroke="#303030" stroke-width="0.98" />
<ellipse cx="759.8" cy="289.3" rx="6.2" ry="8.2" transform="rotate(25.0 759.8 289.3)" fill="#fff" stroke="#303030" stroke-width="0.98"/>
<ellipse cx="759.8" cy="289.3" rx="4.65" ry="6.1499999999999995" transform="rotate(25.0 759.8 289.3)" fill="none" stroke="#303030" stroke-width="0.98"/>
<path d="M1.6,4.1 C1.6,2 3,0.7 5.1,0.7 C7.2,0.7 8.6,2 8.6,4.1 C8.6,5.5 8.1,6.3 7.2,7.4 L1.6,13.3 H9.1" transform="translate(930.51 188.30) scale(0.92 1)" fill="none" stroke="#2e2e2e" stroke-width="1.38" stroke-linejoin="miter" stroke-miterlimit="2.2"/>
<path d="M1.6,3.1 V0.7 H8.6 L4.2,13.9" transform="translate(940.81 188.30) scale(0.92 1)" fill="none" stroke="#2e2e2e" stroke-width="1.38" stroke-linejoin="miter" stroke-miterlimit="2.2"/>
<path d="M1.6,4.1 C1.6,2 3,0.7 5.1,0.7 C7.2,0.7 8.6,2 8.6,4.1 C8.6,5.5 8.1,6.3 7.2,7.4 L1.6,13.3 H9.1" transform="translate(945.51 273.30) scale(0.92 1)" fill="none" stroke="#2e2e2e" stroke-width="1.38" stroke-linejoin="miter" stroke-miterlimit="2.2"/>
<path d="M5.15,0.7 C7.1,0.7 8.3,1.9 8.3,3.7 C8.3,5.5 7.1,6.7 5.15,6.7 C3.2,6.7 2,5.5 2,3.7 C2,1.9 3.2,0.7 5.15,0.7 Z M5.15,6.7 C7.4,6.7 8.7,8 8.7,10 C8.7,12 7.4,13.3 5.15,13.3 C2.9,13.3 1.6,12 1.6,10 C1.6,8 2.9,6.7 5.15,6.7 Z" transform="translate(955.81 273.30) scale(0.92 1)" fill="none" stroke="#2e2e2e" stroke-width="1.38" stroke-linejoin="miter" stroke-miterlimit="2.2"/>
<path d="M1.6,4.1 C1.6,2 3,0.7 5.1,0.7 C7.2,0.7 8.6,2 8.6,4.1 C8.6,5.5 8.1,6.3 7.2,7.4 L1.6,13.3 H9.1" transform="translate(786.81 283.30) scale(0.92 1)" fill="none" stroke="#2e2e2e" stroke-width="1.38" stroke-linejoin="miter" stroke-miterlimit="2.2"/>
<path d="M3.7,13.8 L7.8,6.8 C8.4,5.8 8.7,5.1 8.7,4.3 C8.7,2.2 7.3,0.7 5.15,0.7 C3,0.7 1.6,2.2 1.6,4.3 C1.6,6.4 3,7.9 5,7.9 C6.2,7.9 7.2,7.5 7.8,6.7" transform="translate(797.11 283.30) scale(0.92 1)" fill="none" stroke="#2e2e2e" stroke-width="1.38" stroke-linejoin="miter" stroke-miterlimit="2.2"/>
<path d="M1.5,3.6 C1.8,1.8 3.1,0.7 5,0.7 C7.1,0.7 8.4,1.9 8.4,3.8 C8.4,5.6 7.2,6.7 5.3,6.7 H4.5 M5.3,6.7 C7.4,6.7 8.7,7.9 8.7,9.9 C8.7,12 7.3,13.3 5.1,13.3 C3,13.3 1.6,12.3 1.3,10.4" transform="translate(819.41 299.40) scale(0.92 1)" fill="none" stroke="#2e2e2e" stroke-width="1.38" stroke-linejoin="miter" stroke-miterlimit="2.2"/>
<path d="M1.5,3.6 C1.8,1.8 3.1,0.7 5,0.7 C7.1,0.7 8.4,1.9 8.4,3.8 C8.4,5.6 7.2,6.7 5.3,6.7 H4.5 M5.3,6.7 C7.4,6.7 8.7,7.9 8.7,9.9 C8.7,12 7.3,13.3 5.1,13.3 C3,13.3 1.6,12.3 1.3,10.4" transform="translate(829.71 299.40) scale(0.92 1)" fill="none" stroke="#2e2e2e" stroke-width="1.38" stroke-linejoin="miter" stroke-miterlimit="2.2"/>
<path d="M1.5,3.6 C1.8,1.8 3.1,0.7 5,0.7 C7.1,0.7 8.4,1.9 8.4,3.8 C8.4,5.6 7.2,6.7 5.3,6.7 H4.5 M5.3,6.7 C7.4,6.7 8.7,7.9 8.7,9.9 C8.7,12 7.3,13.3 5.1,13.3 C3,13.3 1.6,12.3 1.3,10.4" transform="translate(758.31 343.10) scale(0.92 1)" fill="none" stroke="#2e2e2e" stroke-width="1.38" stroke-linejoin="miter" stroke-miterlimit="2.2"/>
<path d="M1.6,4.2 C1.6,1.9 3,0.7 5.15,0.7 C7.3,0.7 8.7,1.9 8.7,4.2 V9.8 C8.7,12.1 7.3,13.3 5.15,13.3 C3,13.3 1.6,12.1 1.6,9.8 Z" transform="translate(768.61 343.10) scale(0.92 1)" fill="none" stroke="#2e2e2e" stroke-width="1.38" stroke-linejoin="miter" stroke-miterlimit="2.2"/>
<path d="M713,227L740.8,250.9" fill="none" stroke="#303030" stroke-width="0.98"/>
<path d="M737.8,254.4 L741.3,251.4 H745 C746.8,251.4 747.9,252.8 747.9,254.5 C747.9,256.3 746.8,257.7 745,257.7 H741.3 Z M741.3,251.4 V257.7 M735,254.4 H737.8 M747.9,254.4 H751" fill="none" stroke="#303030" stroke-width="0.98" />
<path d="M1.6,4.1 C1.6,2 3,0.7 5.1,0.7 C7.2,0.7 8.6,2 8.6,4.1 C8.6,5.5 8.1,6.3 7.2,7.4 L1.6,13.3 H9.1" transform="translate(699.31 210.00) scale(0.92 1)" fill="none" stroke="#2e2e2e" stroke-width="1.38" stroke-linejoin="miter" stroke-miterlimit="2.2"/>
<path d="M1.6,4.2 C1.6,1.9 3,0.7 5.15,0.7 C7.3,0.7 8.7,1.9 8.7,4.2 V9.8 C8.7,12.1 7.3,13.3 5.15,13.3 C3,13.3 1.6,12.1 1.6,9.8 Z" transform="translate(709.61 210.00) scale(0.92 1)" fill="none" stroke="#2e2e2e" stroke-width="1.38" stroke-linejoin="miter" stroke-miterlimit="2.2"/>
<path d="M693.22,238.36 L682.52,232.46 A4.9,7.7 28.9 0 0 675.08,245.94 L685.78,251.84" fill="#fff" stroke="#303030" stroke-width="0.98" />
<path d="M691.92,237.66 A4.9,7.7 28.9 0 0 684.48,251.14" fill="#fff" stroke="#303030" stroke-width="1.25" />
<path d="M694.13,239.21 A4.6,7.3 28.9 0 0 687.07,251.99" fill="#fff" stroke="#303030" stroke-width="1.25" />
<path d="M730.49,258.40 L699.99,241.30 A8.1,10.2 29.3 0 0 690.01,259.10 L720.51,276.20" fill="#fff" stroke="#303030" stroke-width="0.98" />
<ellipse cx="725.5" cy="267.3" rx="8.1" ry="10.2" transform="rotate(29.3 725.5 267.3)" fill="#fff" stroke="#303030" stroke-width="0.98"/>
<ellipse cx="725.5" cy="267.3" rx="6.0" ry="7.4" transform="rotate(29.3 725.5 267.3)" fill="none" stroke="#303030" stroke-width="0.98"/>
<path d="M357,438.0 L700.7,253.08939999999996 L708.8,258.6 L707,267.2 L370,449.0 Z" fill="#fff"/>
<path d="M357,438.0L700.7,253.08939999999996" fill="none" stroke="#303030" stroke-width="0.98"/>
<path d="M365,443.3L708.8,258.6" fill="none" stroke="#303030" stroke-width="0.98"/>
<path d="M370,449.0L707,267.2" fill="none" stroke="#303030" stroke-width="0.98"/>
<path d="M700.7,253.08939999999996 L708.8,258.6 L707,267.2" fill="none" stroke="#303030" stroke-width="0.98" />
<path d="M629,216.6L675,236.4" fill="none" stroke="#303030" stroke-width="0.98"/>
<path d="M549.4,303L562,327" fill="none" stroke="#303030" stroke-width="0.98"/>
<path d="M1.6,4.1 C1.6,2 3,0.7 5.1,0.7 C7.2,0.7 8.6,2 8.6,4.1 C8.6,5.5 8.1,6.3 7.2,7.4 L1.6,13.3 H9.1" transform="translate(600.31 206.80) scale(0.92 1)" fill="none" stroke="#2e2e2e" stroke-width="1.38" stroke-linejoin="miter" stroke-miterlimit="2.2"/>
<path d="M1.6,4.1 C1.6,2 3,0.7 5.1,0.7 C7.2,0.7 8.6,2 8.6,4.1 C8.6,5.5 8.1,6.3 7.2,7.4 L1.6,13.3 H9.1" transform="translate(610.61 206.80) scale(0.92 1)" fill="none" stroke="#2e2e2e" stroke-width="1.38" stroke-linejoin="miter" stroke-miterlimit="2.2"/>
<path d="M1.6,4.1 C1.6,2 3,0.7 5.1,0.7 C7.2,0.7 8.6,2 8.6,4.1 C8.6,5.5 8.1,6.3 7.2,7.4 L1.6,13.3 H9.1" transform="translate(539.01 280.00) scale(0.92 1)" fill="none" stroke="#2e2e2e" stroke-width="1.38" stroke-linejoin="miter" stroke-miterlimit="2.2"/>
<path d="M3.5,3.6 L6.7,0.9 V13.9" transform="translate(549.31 280.00) scale(0.92 1)" fill="none" stroke="#2e2e2e" stroke-width="1.38" stroke-linejoin="miter" stroke-miterlimit="2.2"/>
<path d="M367.69,446.53 L352.69,435.93 A9.6,11.6 35.2 0 0 339.31,454.87 L354.31,465.47" fill="#fff" stroke="#303030" stroke-width="0.98" />
<ellipse cx="361" cy="456" rx="9.6" ry="11.6" transform="rotate(35.2 361 456)" fill="#fff" stroke="#303030" stroke-width="0.98"/>
<ellipse cx="361" cy="456" rx="6.912" ry="8.352" transform="rotate(35.2 361 456)" fill="none" stroke="#303030" stroke-width="0.98"/>
<path d="M334.33,423.70 L325.53,419.20 A7.0,8.2 27.1 0 0 318.07,433.80 L326.87,438.30" fill="#fff" stroke="#303030" stroke-width="0.98" />
<ellipse cx="330.6" cy="431" rx="7.0" ry="8.2" transform="rotate(27.1 330.6 431)" fill="#fff" stroke="#303030" stroke-width="0.98"/>
<ellipse cx="330.6" cy="431" rx="5.04" ry="5.903999999999999" transform="rotate(27.1 330.6 431)" fill="none" stroke="#303030" stroke-width="0.98"/>
<path d="M387.05,465.16 L378.65,460.46 A6.8,8.3 29.2 0 0 370.55,474.94 L378.95,479.64" fill="#fff" stroke="#303030" stroke-width="0.98" />
<ellipse cx="383" cy="472.4" rx="6.8" ry="8.3" transform="rotate(29.2 383 472.4)" fill="#fff" stroke="#303030" stroke-width="0.98"/>
<ellipse cx="383" cy="472.4" rx="4.896" ry="5.976" transform="rotate(29.2 383 472.4)" fill="none" stroke="#303030" stroke-width="0.98"/>
<path d="M403.94,475.59 L402.24,474.39 A9.9,10.3 35.2 0 0 390.36,491.21 L392.06,492.41" fill="#fff" stroke="#303030" stroke-width="0.98" />
<ellipse cx="398" cy="484" rx="9.9" ry="10.3" transform="rotate(35.2 398 484)" fill="#fff" stroke="#303030" stroke-width="0.98"/>
<ellipse cx="398" cy="484" rx="7.227" ry="7.519" transform="rotate(35.2 398 484)" fill="none" stroke="#303030" stroke-width="0.98"/>
<path d="M344,411 L369,397.3 L372,411" fill="none" stroke="#303030" stroke-width="0.98" />
<path d="M330.5,419.3L344,411" fill="none" stroke="#303030" stroke-width="0.98"/>
<path d="M372,411L381,460" fill="none" stroke="#303030" stroke-width="0.98"/>
<path d="M393.6,494.6L386,522" fill="none" stroke="#303030" stroke-width="0.98"/>
<path d="M3.5,3.6 L6.7,0.9 V13.9" transform="translate(362.31 372.30) scale(0.92 1)" fill="none" stroke="#2e2e2e" stroke-width="1.38" stroke-linejoin="miter" stroke-miterlimit="2.2"/>
<path d="M3.7,13.8 L7.8,6.8 C8.4,5.8 8.7,5.1 8.7,4.3 C8.7,2.2 7.3,0.7 5.15,0.7 C3,0.7 1.6,2.2 1.6,4.3 C1.6,6.4 3,7.9 5,7.9 C6.2,7.9 7.2,7.5 7.8,6.7" transform="translate(372.61 372.30) scale(0.92 1)" fill="none" stroke="#2e2e2e" stroke-width="1.38" stroke-linejoin="miter" stroke-miterlimit="2.2"/>
<path d="M3.5,3.6 L6.7,0.9 V13.9" transform="translate(368.61 529.00) scale(0.92 1)" fill="none" stroke="#2e2e2e" stroke-width="1.38" stroke-linejoin="miter" stroke-miterlimit="2.2"/>
<path d="M5.15,0.7 C7.1,0.7 8.3,1.9 8.3,3.7 C8.3,5.5 7.1,6.7 5.15,6.7 C3.2,6.7 2,5.5 2,3.7 C2,1.9 3.2,0.7 5.15,0.7 Z M5.15,6.7 C7.4,6.7 8.7,8 8.7,10 C8.7,12 7.4,13.3 5.15,13.3 C2.9,13.3 1.6,12 1.6,10 C1.6,8 2.9,6.7 5.15,6.7 Z" transform="translate(378.91 529.00) scale(0.92 1)" fill="none" stroke="#2e2e2e" stroke-width="1.38" stroke-linejoin="miter" stroke-miterlimit="2.2"/>
<path d="M905.97,185.30 C899.81,185.48 892.35,186.55 886.53,187.84 C880.70,189.13 875.84,190.51 871.02,193.06 C866.20,195.61 861.42,199.50 857.59,203.16 C853.77,206.81 850.23,211.14 848.08,214.98 C845.93,218.82 845.00,222.47 844.69,226.20 C844.38,229.94 845.02,233.65 846.22,237.39 C847.42,241.14 849.35,245.21 851.88,248.67 C854.41,252.14 857.26,255.16 861.42,258.19 C865.58,261.22 871.68,264.67 876.84,266.86 C881.99,269.05 887.17,270.35 892.35,271.33 C897.53,272.30 902.73,272.80 907.91,272.70 C913.10,272.61 918.29,272.05 923.47,270.76 C928.65,269.47 934.47,267.36 938.97,264.94 C943.47,262.53 946.98,259.62 950.48,256.28 C953.98,252.93 957.61,248.97 959.98,244.89 C962.35,240.81 963.91,235.53 964.71,231.80 C965.50,228.06 965.36,225.90 964.75,222.47 C964.13,219.03 963.07,214.89 961.03,211.19 C958.99,207.48 956.16,203.50 952.49,200.23 C948.81,196.96 943.83,193.82 939.00,191.57 C934.16,189.32 928.98,187.78 923.48,186.74 C917.97,185.69 912.13,185.12 905.97,185.30 Z" fill="none" stroke="#dc2029" stroke-width="4.8" stroke-linejoin="round"/>
</svg>
</body></html>
